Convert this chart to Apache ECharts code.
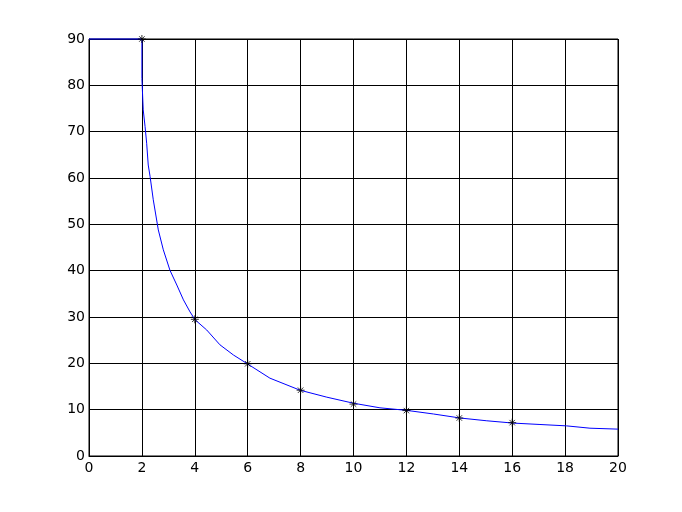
<!DOCTYPE html>
<html><head><meta charset="utf-8">
<script src="https://cdn.jsdelivr.net/npm/echarts@6/dist/echarts.min.js"></script>
<style>html,body{margin:0;padding:0;background:#fff}#c{width:682px;height:512px}</style>
</head><body><div id="c"></div>
<script>
var curveX = [0, 2, 2, 2.05, 2.12, 2.18, 2.24, 2.31, 2.43, 2.62, 2.81, 3.06, 3.32, 3.57, 3.82, 4.01, 4.45, 4.95, 5.46, 5.96, 6.84, 7.98, 8.99, 9.99, 11.0, 12.01, 13.02, 14.03, 15.04, 16.04, 17.05, 18.06, 18.94, 20.0];
var curveY = [90, 90, 81.5, 74.7, 71.1, 67.5, 62.8, 60.3, 55.3, 48.8, 44.5, 40.1, 36.9, 33.7, 31.1, 29.4, 27.2, 24.0, 21.8, 20.0, 16.8, 14.2, 12.7, 11.4, 10.4, 9.85, 9.07, 8.2, 7.6, 7.1, 6.8, 6.5, 6.0, 5.8];
var markX = [2, 4, 6, 8, 10, 12, 14, 16];
var markY = [90, 29.5, 19.9, 14.2, 11.2, 9.8, 8.2, 7.2];
var xTicks = [0, 2, 4, 6, 8, 10, 12, 14, 16, 18, 20];
var yTicks = [0, 10, 20, 30, 40, 50, 60, 70, 80, 90];

var curve = curveX.map(function (x, i) { return [x, curveY[i]]; });
var marks = markX.map(function (x, i) { return [x, markY[i]]; });
var chart = echarts.init(document.getElementById('c'), null, {renderer: 'canvas'});
var lab = {color: '#000', fontFamily: 'DejaVu Sans, sans-serif', fontSize: 14};
chart.setOption({
  animation: false,
  backgroundColor: '#fff',
  grid: {left: 89, top: 39, width: 529, height: 417, show: true, borderColor: '#000', borderWidth: 1, backgroundColor: 'transparent'},
  xAxis: {type: 'value', min: xTicks[0], max: xTicks[xTicks.length - 1], interval: 2,
    axisLine: {show: true, lineStyle: {color: '#000'}}, axisTick: {show: false},
    splitLine: {show: true, lineStyle: {color: '#000', width: 1}},
    axisLabel: Object.assign({margin: 5}, lab)},
  yAxis: {type: 'value', min: yTicks[0], max: yTicks[yTicks.length - 1], interval: 10,
    axisLine: {show: true, lineStyle: {color: '#000'}}, axisTick: {show: false},
    splitLine: {show: true, lineStyle: {color: '#000', width: 1}},
    axisLabel: Object.assign({margin: 4}, lab)},
  series: [
    {type: 'line', data: curve, showSymbol: false, symbol: 'none', lineStyle: {color: '#0000ff', width: 1}, clip: false, z: 3},
    {type: 'scatter', data: marks, symbol: 'path://M5 0 L5 10 M0 5 L10 5 M1.6 1.6 L8.4 8.4 M1.6 8.4 L8.4 1.6', symbolSize: 8,
      itemStyle: {color: 'none', borderColor: '#000', borderWidth: 1}, z: 4}
  ]
});
</script></body></html>
